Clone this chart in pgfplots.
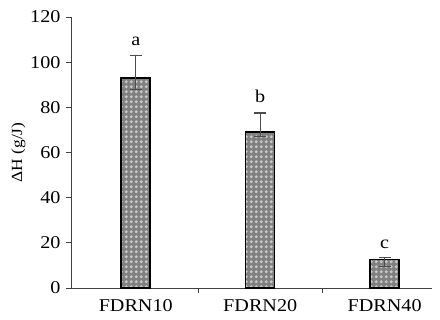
\documentclass[border=0pt]{standalone}
\usepackage{fontspec}
\setmainfont[FakeStretch=1.12]{Liberation Serif}
\usepackage{pgfplots}
\pgfplotsset{compat=1.18}
\usetikzlibrary{patterns}
\pgfdeclarepatternformonly{bigdots}{\pgfpointorigin}{\pgfpoint{5.2pt}{5.2pt}}{\pgfpoint{5.2pt}{5.2pt}}{%
  \pgfpathcircle{\pgfpoint{2.6pt}{2.6pt}}{1.8pt}%
  \pgfusepath{fill}%
}
\begin{document}
\begin{tikzpicture}
\begin{axis}[
  at={(0,0)}, anchor=south west,
  scale only axis, width=361pt, height=271pt,
  xmin=-0.52, xmax=2.38, ymin=0, ymax=120,
  axis lines*=left,
  axis line style={draw=black!75, line width=0.9pt},
  xtick={0,1,2},
  xticklabels={FDRN10,FDRN20,FDRN40},
  minor xtick={0.5,1.5},
  major x tick style={draw=none},
  minor x tick style={draw=black!75, line width=0.9pt},
  minor tick length=5pt,
  ytick={0,20,...,120},
  y tick style={draw=black!75, line width=0.9pt},
  major tick length=5pt,
  tick align=outside,
  tick label style={font=\fontsize{18}{20}\selectfont},
  /pgf/number format/assume math mode=true,
  ylabel={ΔH (g/J)},
  ylabel style={font=\fontsize{15.5}{17}\selectfont, yshift=-2pt},
  yticklabel style={xshift=-2pt},
  xticklabel style={yshift=-3pt},
  clip=false,
]
\addplot[ybar, bar width=29pt, draw=none,
  preaction={fill=black!50},
  pattern=bigdots, pattern color=black!22]
coordinates { (0,93) (1,69) (2,12.7) };
\addplot[ybar, bar width=29pt, draw=black, line width=1.5pt, fill=none,
  error bars/.cd, y dir=both, y explicit,
  error bar style={draw=black!70, line width=1.1pt},
  error mark options={rotate=90, mark size=6pt, draw=black!70, line width=1.1pt}]
coordinates {
  (0,93) +- (0,10) -= (0,5)
  (1,69) +- (0,8.5) -= (0,2)
  (2,12.7) +- (0,1) -= (0,3)
};
\node[font=\fontsize{18}{20}\selectfont] at (axis cs:0,109) {a};
\node[font=\fontsize{18}{20}\selectfont] at (axis cs:1,85) {b};
\node[font=\fontsize{18}{20}\selectfont] at (axis cs:2,19.5) {c};
\end{axis}
\useasboundingbox (-71pt,-32pt) rectangle (369pt,288pt);
\end{tikzpicture}
\end{document}
